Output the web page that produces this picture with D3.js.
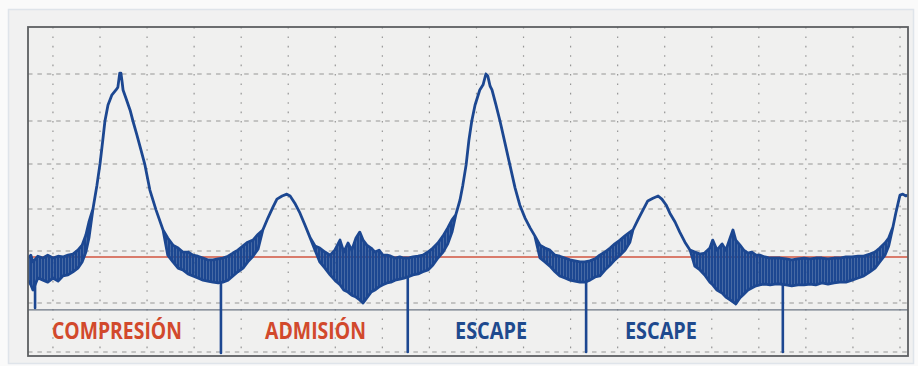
<!DOCTYPE html>
<html><head><meta charset="utf-8">
<script src="https://cdn.jsdelivr.net/npm/d3@7"></script>
<style>
html,body{margin:0;padding:0;background:#f6f6f6;}
svg{display:block;}
</style></head>
<body>
<svg id="chart" width="918" height="366"></svg>
<script>
// ---- DATA (time in scope divisions, amplitude in scope divisions) ----
const times = [
 -0.53,-0.47,-0.425,-0.32,-0.21,-0.11,0,0.11,0.21,0.32,
 0.425,0.53,0.62,0.70,0.765,0.85,0.935,1.00,1.06,1.105,
 1.17,1.25,1.34,1.38,1.42,1.445,1.47,1.49,1.55,1.64,
 1.70,1.785,1.87,1.955,2.06,2.19,2.34,2.44,2.55,2.66,
 2.76,2.87,2.975,3.08,3.19,3.29,3.40,3.51,3.61,3.72,
 3.825,3.93,4.04,4.14,4.25,4.36,4.46,4.57,4.675,4.76,
 4.87,4.97,5.04,5.14,5.25,5.355,5.46,5.57,5.67,5.78,
 5.89,5.99,6.10,6.18,6.27,6.35,6.44,6.52,6.59,6.67,
 6.76,6.84,6.93,7.01,7.10,7.18,7.27,7.37,7.46,7.54,
 7.65,7.76,7.86,7.97,8.075,8.18,8.29,8.39,8.48,8.56,
 8.65,8.71,8.78,8.84,8.90,8.97,9.07,9.14,9.20,9.24,
 9.29,9.33,9.41,9.50,9.605,9.71,9.82,9.92,10.03,10.14,
 10.24,10.35,10.455,10.56,10.67,10.77,10.88,10.99,11.09,11.20,
 11.30,11.41,11.52,11.62,11.73,11.84,11.94,12.05,12.155,12.26,
 12.325,12.43,12.54,12.64,12.75,12.86,12.94,13.03,13.11,13.22,
 13.32,13.43,13.54,13.64,13.75,13.85,13.96,14.02,14.11,14.22,
 14.30,14.39,14.45,14.51,14.60,14.68,14.77,14.85,14.94,15.02,
 15.13,15.24,15.34,15.45,15.58,15.70,15.83,15.96,16.09,16.21,
 16.34,16.47,16.60,16.72,16.85,16.98,17.11,17.23,17.36,17.47,
 17.57,17.68,17.76,17.85,17.91,17.96,18.00,18.06,18.125,18.17
];
// upper edge of the noisy trace
const upper = [
 1.865,1.92,1.79,1.90,1.865,1.92,1.865,1.90,1.885,1.92,
 1.94,2.02,2.14,2.38,2.69,3.00,3.53,4.00,4.56,5.00,
 5.34,5.55,5.66,5.72,6.02,6.02,5.83,5.66,5.49,5.23,
 5.00,4.67,4.33,3.98,3.42,2.98,2.50,2.31,2.14,2.07,
 1.98,1.98,1.92,1.90,1.865,1.83,1.83,1.85,1.865,1.90,
 1.96,2.02,2.12,2.21,2.26,2.40,2.50,2.79,3.04,3.22,
 3.29,3.33,3.29,3.13,2.90,2.62,2.33,2.12,2.07,1.98,
 1.92,2.02,2.26,1.98,2.19,2.02,2.31,2.45,2.26,2.14,
 2.07,1.98,2.02,1.92,1.92,1.90,1.865,1.885,1.865,1.865,
 1.885,1.90,1.92,1.98,2.07,2.19,2.36,2.55,2.74,2.86,
 3.20,3.53,3.98,4.56,5.00,5.34,5.66,5.77,6.00,5.96,
 5.74,5.66,5.36,5.00,4.49,3.98,3.47,3.09,2.79,2.55,
 2.36,2.14,2.07,2.02,1.92,1.90,1.865,1.83,1.81,1.79,
 1.79,1.81,1.85,1.92,1.98,2.07,2.17,2.26,2.36,2.45,
 2.50,2.74,2.98,3.18,3.24,3.29,3.22,3.09,2.90,2.69,
 2.45,2.21,2.02,1.98,1.94,1.96,2.07,2.26,2.02,2.17,
 2.02,2.31,2.50,2.26,2.14,2.02,1.96,1.98,1.92,1.92,
 1.885,1.865,1.865,1.865,1.85,1.83,1.85,1.865,1.85,1.865,
 1.865,1.85,1.865,1.865,1.885,1.885,1.90,1.90,1.94,1.98,
 2.07,2.19,2.31,2.57,2.90,3.13,3.31,3.33,3.29,3.31
];
// lower edge of the noisy trace
const lower = [
 1.44,1.35,1.25,1.48,1.44,1.40,1.48,1.42,1.52,1.54,
 1.60,1.67,1.79,1.98,2.31,3.00,3.53,4.00,4.56,5.00,
 5.34,5.55,5.66,5.72,6.02,6.02,5.83,5.66,5.49,5.23,
 5.00,4.67,4.33,3.98,3.42,2.98,2.50,1.92,1.79,1.67,
 1.635,1.56,1.52,1.48,1.44,1.42,1.40,1.385,1.40,1.44,
 1.52,1.60,1.67,1.79,1.90,2.05,2.50,2.79,3.04,3.22,
 3.29,3.33,3.29,3.13,2.90,2.62,2.33,2.02,1.79,1.67,
 1.54,1.44,1.35,1.25,1.21,1.15,1.115,1.06,1.00,1.10,
 1.21,1.25,1.31,1.35,1.385,1.40,1.44,1.46,1.48,1.50,
 1.54,1.56,1.60,1.635,1.73,1.865,1.98,2.17,2.45,2.86,
 3.20,3.53,3.98,4.56,5.00,5.34,5.66,5.77,6.00,5.96,
 5.74,5.66,5.36,5.00,4.49,3.98,3.47,3.09,2.79,2.55,
 2.36,1.865,1.79,1.71,1.60,1.52,1.48,1.44,1.42,1.40,
 1.40,1.44,1.50,1.52,1.635,1.73,1.83,1.92,2.02,2.21,
 2.50,2.74,2.98,3.18,3.24,3.29,3.22,3.09,2.90,2.69,
 2.45,2.21,2.02,1.71,1.635,1.54,1.40,1.35,1.25,1.19,
 1.115,1.06,1.02,0.98,1.10,1.17,1.25,1.29,1.33,1.35,
 1.365,1.35,1.365,1.365,1.35,1.33,1.35,1.35,1.365,1.35,
 1.385,1.365,1.385,1.40,1.40,1.44,1.48,1.52,1.60,1.67,
 1.79,1.92,2.12,2.57,2.90,3.13,3.31,3.33,3.29,3.31
];
// sharp downward spikes (ignition / valve events)
const spikeTimes   = [-0.38, 3.57, 7.54, 11.33, 15.51];
const spikeStarts  = [1.40, 1.40, 1.50, 1.40, 1.365];
const spikeEnds    = [0.90, -0.02, 0.0, 0.0, 0.0];
const referenceLevel = 1.885;
const labelTexts = ["COMPRESIÓN", "ADMISIÓN", "ESCAPE", "ESCAPE"];
const labelTimes = [1.36, 5.58, 9.31, 12.92];
const labelGroup = ["cilindro", "cilindro", "escape", "escape"];
const xGridTicks = d3.range(0, 19);
const yGridTicks = d3.range(0, 7);

(function draw() {
  const svg = d3.select("#chart");
  const pL = 28, pR = 908, pT = 27, pB = 356;
  const x = d3.scaleLinear().domain([-0.53, 18.17]).range([pL, pR]);
  // piecewise scale reproduces the slight non-uniform spacing of the photographed graticule
  const y = d3.scaleLinear().domain([-0.08, 0, 1, 2, 3, 4, 5, 6, 7])
    .range([356, 352, 303, 251, 209, 164, 121, 74, 27]);
  const labelColor = d3.scaleOrdinal().domain(["cilindro", "escape"]).range(["#d2492c", "#1f4a8e"]);
  const traceColor = "#1c4791";

  const defs = svg.append("defs");
  const pat = defs.append("pattern").attr("id", "noise").attr("patternUnits", "userSpaceOnUse")
    .attr("width", 3).attr("height", 8);
  pat.append("rect").attr("width", 3).attr("height", 8).attr("fill", traceColor).attr("opacity", 0.8);
  pat.append("rect").attr("width", 2).attr("height", 8).attr("fill", traceColor);

  svg.append("rect").attr("x", 0).attr("y", 0).attr("width", 918).attr("height", 366).attr("fill", "#fafafa");
  svg.append("rect").attr("x", 8.5).attr("y", 9.5).attr("width", 905).attr("height", 354)
    .attr("fill", "#f1f1f1").attr("stroke", "#dfe4ea").attr("stroke-width", 1.5);
  svg.append("rect").attr("x", pL).attr("y", pT).attr("width", pR - pL).attr("height", pB - pT)
    .attr("fill", "#f0f0ef");

  defs.append("clipPath").attr("id", "clip").append("rect")
    .attr("x", pL).attr("y", pT).attr("width", pR - pL).attr("height", pB - pT);

  const grid = svg.append("g").attr("clip-path", "url(#clip)");
  grid.selectAll(".vg").data(xGridTicks).join("line")
    .attr("x1", d => x(d)).attr("x2", d => x(d)).attr("y1", pT).attr("y2", pB)
    .attr("stroke", "#959595").attr("stroke-width", 1.2).attr("stroke-dasharray", "1.6,7.8");
  grid.selectAll(".hg").data(yGridTicks).join("line")
    .attr("x1", pL).attr("x2", pR).attr("y1", d => y(d)).attr("y2", d => y(d))
    .attr("stroke", "#959595").attr("stroke-width", 1.2).attr("stroke-dasharray", "4.5,4.9");

  svg.append("line").attr("x1", pL).attr("x2", pR).attr("y1", y(0.86)).attr("y2", y(0.86))
    .attr("stroke", "#6c7684").attr("stroke-width", 1.3);

  svg.append("line").attr("x1", pL).attr("x2", pR)
    .attr("y1", y(referenceLevel)).attr("y2", y(referenceLevel))
    .attr("stroke", "#d2553f").attr("stroke-width", 1.6);

  const idx = d3.range(times.length);
  const area = d3.area().x(i => x(times[i])).y0(i => y(lower[i])).y1(i => y(upper[i]));
  const plot = svg.append("g").attr("clip-path", "url(#clip)");
  plot.append("path").attr("d", area(idx))
    .attr("fill", "url(#noise)").attr("stroke", traceColor).attr("stroke-width", 2.8)
    .attr("stroke-linejoin", "round").attr("stroke-linecap", "round");

  plot.selectAll(".spike").data(d3.range(spikeTimes.length)).join("line")
    .attr("x1", i => x(spikeTimes[i])).attr("x2", i => x(spikeTimes[i]))
    .attr("y1", i => y(spikeStarts[i])).attr("y2", i => y(spikeEnds[i]))
    .attr("stroke", traceColor).attr("stroke-width", 2.6).attr("stroke-linecap", "round");

  const labelWidths = [130, 101, 72, 72];
  svg.selectAll(".lbl").data(d3.range(labelTexts.length)).join("text")
    .attr("x", i => x(labelTimes[i])).attr("y", y(0.27))
    .attr("text-anchor", "middle")
    .attr("font-family", "'Liberation Sans Narrow', 'Open Sans', sans-serif")
    .attr("font-weight", "bold").attr("font-size", 24)
    .attr("textLength", i => labelWidths[i]).attr("lengthAdjust", "spacingAndGlyphs")
    .attr("fill", i => labelColor(labelGroup[i]))
    .text(i => labelTexts[i]);

  svg.append("rect").attr("x", pL).attr("y", pT).attr("width", pR - pL).attr("height", pB - pT)
    .attr("fill", "none").attr("stroke", "#5d5f62").attr("stroke-width", 1.8);
})();
</script>
</body></html>
